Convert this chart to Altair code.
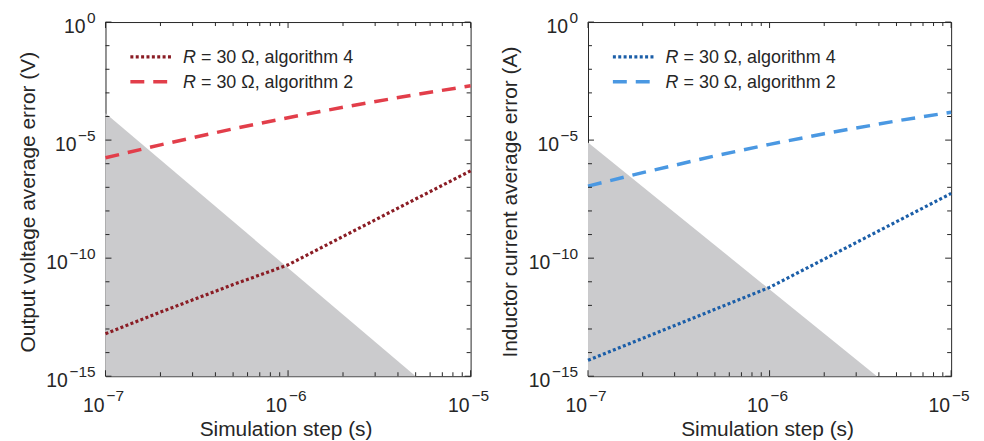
import altair as alt
import pandas as pd

# ---- data ----
steps = [1e-7, 2e-7, 5e-7, 1e-6, 2e-6, 5e-6, 1e-5]
v_alg4 = [6.3e-14, 5.2e-13, 7.6e-12, 5.2e-11, 8.3e-10, 3.2e-8, 5.0e-7]
v_alg2 = [1.78e-6, 6.3e-6, 3.0e-5, 8.9e-5, 2.47e-4, 8.5e-4, 2.0e-3]
i_alg4 = [4.7e-15, 4.0e-14, 6.8e-13, 5.8e-12, 9.1e-11, 3.5e-9, 5.5e-8]
i_alg2 = [1.12e-7, 4.2e-7, 2.14e-6, 6.6e-6, 1.87e-5, 6.5e-5, 1.51e-4]
v_shade_x = [1e-7, 5.0e-6]
v_shade_y = [1.38e-4, 1e-15]
i_shade_x = [1e-7, 3.9e-6]
i_shade_y = [7.9e-6, 1e-15]
shade_floor = 1e-15

x_label_exps = [-7, -6, -5]
y_label_exps = [0, -5, -10, -15]
x_minor_ticks = [k * 10.0 ** e for e in (-7, -6) for k in range(2, 10)]
y_minor_ticks = [10.0 ** -k for k in range(1, 15) if k % 5]
legend_labels = ["algorithm 4", "algorithm 2"]
y_titles = ["Output voltage average error (V)", "Inductor current average error (A)"]
x_title = "Simulation step (s)"

FONT = "Liberation Sans"
TXT = "#262626"
AX = "#262626"
GRAY = "#cbcbcd"
H = 356
FS_TITLE = 21
FS_LEG = 18
FS_BASE = 19.5
FS_EXP = 15.5


def sup(e):
    return ("\u2212" + str(-e)) if e < 0 else str(e)


def sup_width(e, fs):
    s = sup(e)
    return sum(0.584 * fs if ch == "\u2212" else 0.556 * fs for ch in s)


def panel(W, alg4, alg2, sx, sy, c4, c2, ytitle):
    xs = alt.Scale(type="log", domain=[1e-7, 1e-5], nice=False)
    ys = alt.Scale(type="log", domain=[1e-15, 1], nice=False)

    def X(f):
        return alt.X(f, type="quantitative", scale=xs, axis=None)

    def Y(f):
        return alt.Y(f, type="quantitative", scale=ys, axis=None, stack=None)

    layers = []
    shade = alt.Chart(pd.DataFrame({"x": sx, "y": sy, "y0": [shade_floor] * len(sx)})).mark_area(
        color=GRAY, opacity=1, fillOpacity=1
    ).encode(x=X("x"), y=Y("y"), y2=alt.Y2("y0"))
    layers.append(shade)

    df = pd.DataFrame({"step": steps, "a4": alg4, "a2": alg2})
    layers.append(alt.Chart(df).mark_line(color=c2, strokeWidth=3.5, strokeDash=[14, 9]).encode(
        x=X("step"), y=Y("a2")))
    layers.append(alt.Chart(df).mark_line(color=c4, strokeWidth=3.2, strokeDash=[3, 2.4]).encode(
        x=X("step"), y=Y("a4")))

    # ticks (inward, on all four sides)
    for vals, L in ((y_minor_ticks, 4), ([10.0 ** e for e in y_label_exps], 6)):
        d = alt.Chart(pd.DataFrame({"v": vals}))
        layers.append(d.mark_rule(color=AX, strokeWidth=1).encode(y=Y("v"), x=alt.value(0), x2=alt.value(L)))
        layers.append(d.mark_rule(color=AX, strokeWidth=1).encode(y=Y("v"), x=alt.value(W), x2=alt.value(W - L)))
    for vals, L in ((x_minor_ticks, 4), ([10.0 ** e for e in x_label_exps], 6)):
        d = alt.Chart(pd.DataFrame({"v": vals}))
        layers.append(d.mark_rule(color=AX, strokeWidth=1).encode(x=X("v"), y=alt.value(H), y2=alt.value(H - L)))
        layers.append(d.mark_rule(color=AX, strokeWidth=1).encode(x=X("v"), y=alt.value(0), y2=alt.value(L)))

    # x tick labels
    dxl = alt.Chart(pd.DataFrame({"v": [10.0 ** e for e in x_label_exps],
                                  "t": [sup(e) for e in x_label_exps],
                                  "b": ["10"] * len(x_label_exps)}))
    layers.append(dxl.mark_text(align="right", baseline="alphabetic", fontSize=FS_BASE, dx=-1,
                                font=FONT, color=TXT).encode(x=X("v"), y=alt.value(H + 35.5), text="b:N"))
    layers.append(dxl.mark_text(align="left", baseline="alphabetic", fontSize=FS_EXP, dx=1,
                                font=FONT, color=TXT).encode(x=X("v"), y=alt.value(H + 24.5), text="t:N"))

    # y tick labels
    for e in y_label_exps:
        d = alt.Chart(pd.DataFrame({"v": [10.0 ** e], "t": [sup(e)], "b": ["10"]}))
        layers.append(d.mark_text(align="right", baseline="alphabetic", fontSize=FS_EXP, dy=0.7,
                                  font=FONT, color=TXT).encode(y=Y("v"), x=alt.value(-10), text="t:N"))
        layers.append(d.mark_text(align="right", baseline="alphabetic", fontSize=FS_BASE, dy=11.3,
                                  font=FONT, color=TXT).encode(
            y=Y("v"), x=alt.value(-10 - sup_width(e, FS_EXP) - 1.5), text="b:N"))

    # axis titles
    layers.append(alt.Chart(pd.DataFrame({"t": [ytitle]})).mark_text(
        angle=270, align="center", baseline="alphabetic", fontSize=FS_TITLE, font=FONT, color=TXT
    ).encode(x=alt.value(-71), y=alt.value(H / 2 + 3), text="t:N"))
    layers.append(alt.Chart(pd.DataFrame({"t": [x_title]})).mark_text(
        align="center", baseline="alphabetic", fontSize=FS_TITLE, font=FONT, color=TXT
    ).encode(x=alt.value(W / 2 - 2), y=alt.value(H + 60), text="t:N"))

    # legend
    styles = [(c4, 3.2, [3, 2.4]), (c2, 3.5, [14, 9])]
    for i, (lab, (col, sw, dash)) in enumerate(zip(legend_labels, styles)):
        yy = 35 + 25 * i
        d = alt.Chart(pd.DataFrame({"r": ["R"], "t": ["= 30 \u03a9, " + lab]}))
        layers.append(d.mark_rule(color=col, strokeWidth=sw, strokeDash=dash).encode(
            x=alt.value(25), x2=alt.value(68), y=alt.value(yy)))
        layers.append(d.mark_text(align="left", baseline="alphabetic", fontSize=FS_LEG, fontStyle="italic",
                                  font=FONT, color=TXT).encode(x=alt.value(78), y=alt.value(yy + 6.5), text="r:N"))
        layers.append(d.mark_text(align="left", baseline="alphabetic", fontSize=FS_LEG,
                                  font=FONT, color=TXT).encode(x=alt.value(78 + (0.722 + 0.278) * FS_LEG),
                                                               y=alt.value(yy + 6.5), text="t:N"))

    return alt.layer(*layers).properties(width=W, height=H)


left = panel(367, v_alg4, v_alg2, v_shade_x, v_shade_y, "#8a1c24", "#e23e4a", y_titles[0])
right = panel(365, i_alg4, i_alg2, i_shade_x, i_shade_y, "#1b5ea8", "#4a98e2", y_titles[1])

chart = alt.hconcat(left, right, spacing=118).properties(
    bounds="flush",
    padding={"left": 9, "top": 1, "right": 5, "bottom": 0},
).configure_view(stroke=AX, strokeWidth=1)

chart.save("out.html", embed_options={"renderer": "svg", "actions": False})
